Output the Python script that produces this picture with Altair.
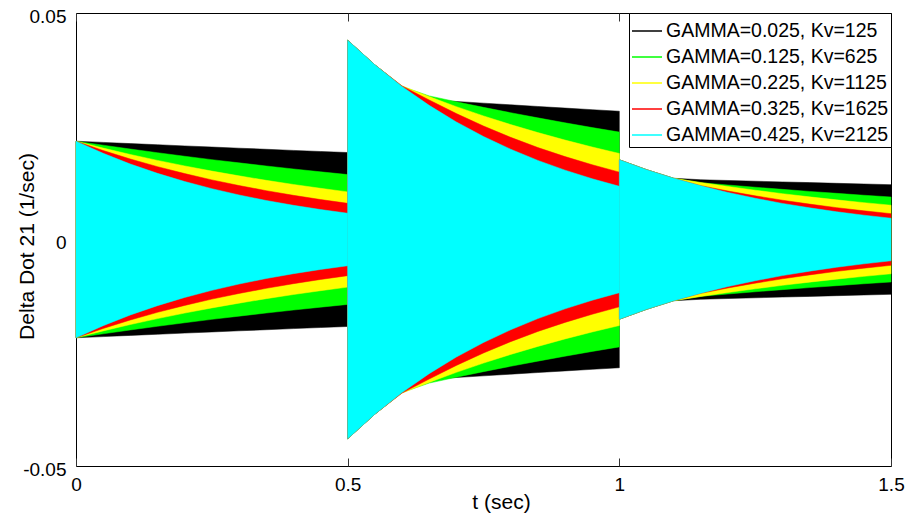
import altair as alt
import pandas as pd

# time grid, one list per segment (seconds)
t_seg1 = [0.0, 0.05, 0.1, 0.15, 0.2, 0.25, 0.3, 0.35, 0.4, 0.45, 0.5]
t_seg2 = [0.5, 0.55, 0.6, 0.65, 0.7, 0.75, 0.8, 0.85, 0.9, 0.95, 1.0]
t_seg3 = [1.0, 1.05, 1.1, 1.15, 1.2, 1.25, 1.3, 1.35, 1.4, 1.45, 1.5]

names = ["GAMMA=0.025, Kv=125", "GAMMA=0.125, Kv=625", "GAMMA=0.225, Kv=1125",
         "GAMMA=0.325, Kv=1625", "GAMMA=0.425, Kv=2125"]
colors = ["#000000", "#00ff00", "#ffff00", "#ff0000", "#00ffff"]

# oscillation envelope amplitude (1/sec), seg1 + seg2 + seg3
amp_g025 = [0.02170, 0.02144, 0.02117, 0.02092, 0.02066, 0.02041, 0.02016, 0.01992, 0.01967, 0.01943, 0.01920,
            0.04400, 0.03856, 0.03379, 0.03085, 0.03047, 0.03010, 0.02973, 0.02937, 0.02901, 0.02866, 0.02831,
            0.01760, 0.01542, 0.01352, 0.01319, 0.01303, 0.01287, 0.01271, 0.01256, 0.01240, 0.01225, 0.01210]
amp_g125 = [0.02170, 0.02082, 0.01997, 0.01916, 0.01838, 0.01763, 0.01692, 0.01623, 0.01557, 0.01494, 0.01433,
            0.04400, 0.03856, 0.03379, 0.03170, 0.03041, 0.02917, 0.02799, 0.02685, 0.02576, 0.02471, 0.02371,
            0.01760, 0.01542, 0.01352, 0.01254, 0.01203, 0.01154, 0.01107, 0.01062, 0.01019, 0.00977, 0.00938]
amp_g225 = [0.02170, 0.02018, 0.01877, 0.01746, 0.01624, 0.01510, 0.01405, 0.01306, 0.01215, 0.01130, 0.01051,
            0.04400, 0.03856, 0.03391, 0.03154, 0.02933, 0.02728, 0.02537, 0.02360, 0.02195, 0.02041, 0.01899,
            0.01760, 0.01542, 0.01352, 0.01258, 0.01170, 0.01088, 0.01012, 0.00941, 0.00875, 0.00814, 0.00757]
amp_g325 = [0.02170, 0.01964, 0.01777, 0.01608, 0.01455, 0.01316, 0.01191, 0.01078, 0.00975, 0.00882, 0.00798,
            0.04400, 0.03856, 0.03390, 0.03080, 0.02780, 0.02505, 0.02255, 0.02030, 0.01830, 0.01650, 0.01487,
            0.01760, 0.01542, 0.01352, 0.01189, 0.01070, 0.00964, 0.00868, 0.00781, 0.00703, 0.00633, 0.00570]
amp_g425 = [0.02170, 0.01902, 0.01666, 0.01460, 0.01280, 0.01122, 0.00983, 0.00861, 0.00755, 0.00661, 0.00580,
            0.04400, 0.03856, 0.03379, 0.02961, 0.02595, 0.02274, 0.01993, 0.01746, 0.01531, 0.01341, 0.01175,
            0.01760, 0.01542, 0.01352, 0.01184, 0.01038, 0.00910, 0.00797, 0.00699, 0.00612, 0.00537, 0.00470]

x_tick_values = [0, 0.5, 1, 1.5]
y_tick_values = [-0.05, 0, 0.05]

amps = [amp_g025, amp_g125, amp_g225, amp_g325, amp_g425]
segs = [t_seg1, t_seg2, t_seg3]
rows = []
for name, amp in zip(names, amps):
    k = 0
    for si, ts in enumerate(segs):
        for t in ts:
            rows.append({"t": t, "seg": si, "series": name, "label": name,
                         "upper": amp[k], "lower": -amp[k]})
            k += 1
df = pd.DataFrame(rows)

FONT = "Liberation Sans"
xscale = alt.Scale(domain=[0, 1.5], nice=False, zero=False)

# inward tick marks at top and bottom drawn as dashed grid lines (8px at each end)
x_enc = alt.X("t:Q", scale=xscale,
              axis=alt.Axis(values=x_tick_values, labelExpr="'' + datum.value", tickSize=0,
                            domain=False, grid=True, gridColor="#333333", gridOpacity=1,
                            gridWidth=1, gridDash=[8, 437, 8, 200],
                            labelFontSize=19, labelFont=FONT,
                            labelColor="black", labelPadding=9, title="t (sec)",
                            titleFont=FONT, titleFontSize=21, titleFontWeight="normal",
                            titleColor="black", titleX=425, titleY=42, titleBaseline="alphabetic",
                            titleAlign="center", labelFlush=False))
y_enc = alt.Y("upper:Q", scale=alt.Scale(domain=[-0.05, 0.05], nice=False, zero=False),
              axis=alt.Axis(values=y_tick_values, labelExpr="'' + datum.value", tickSize=0,
                            domain=False, grid=False, labelFontSize=19, labelFont=FONT,
                            labelColor="black", labelPadding=10, labelOffset=3,
                            title="Delta Dot 21 (1/sec)", titleFont=FONT, titleFontSize=21,
                            titleFontWeight="normal", titleColor="black", titleAngle=270,
                            titleX=-43, titleY=233, titleBaseline="alphabetic",
                            titleAlign="center", labelFlush=False))

# fill scale has an explicit domain, stroke scale takes its (alphabetical) domain from the data,
# so the two legends are not merged and only the stroke (line symbol) legend is shown
fill_enc = alt.Fill("series:N", scale=alt.Scale(domain=names, range=colors), legend=None)
stroke_enc = alt.Stroke("label:N", title=None,
                        scale=alt.Scale(range=colors),
                        legend=alt.Legend(orient="top-right", offset=0, symbolType="stroke",
                                          symbolSize=900, symbolStrokeWidth=1.5, symbolOpacity=1,
                                          labelFont=FONT, labelFontSize=19.5, labelColor="black",
                                          labelLimit=400, labelOffset=3,
                                          rowPadding={"expr": "-1"},
                                          padding=2, strokeColor="black", fillColor="white",
                                          cornerRadius=0))

base = alt.Chart(df)

layers = []
for name in names:
    layers.append(
        base.transform_filter(alt.datum.series == name)
        .mark_area(opacity=1, interpolate="linear", strokeWidth=0.5)
        .encode(x=x_enc, y=y_enc, y2="lower:Q", fill=fill_enc, stroke=stroke_enc, detail="seg:N")
    )

chart = alt.layer(*layers).properties(
    width=815, height=453,
    autosize=alt.AutoSizeParams(type="none"),
    padding={"left": 76, "top": 13, "right": 26, "bottom": 48},
    background="white",
).configure_view(stroke="black", strokeWidth=1)

chart.save("out.html", embed_options={"renderer": "svg", "actions": False})
